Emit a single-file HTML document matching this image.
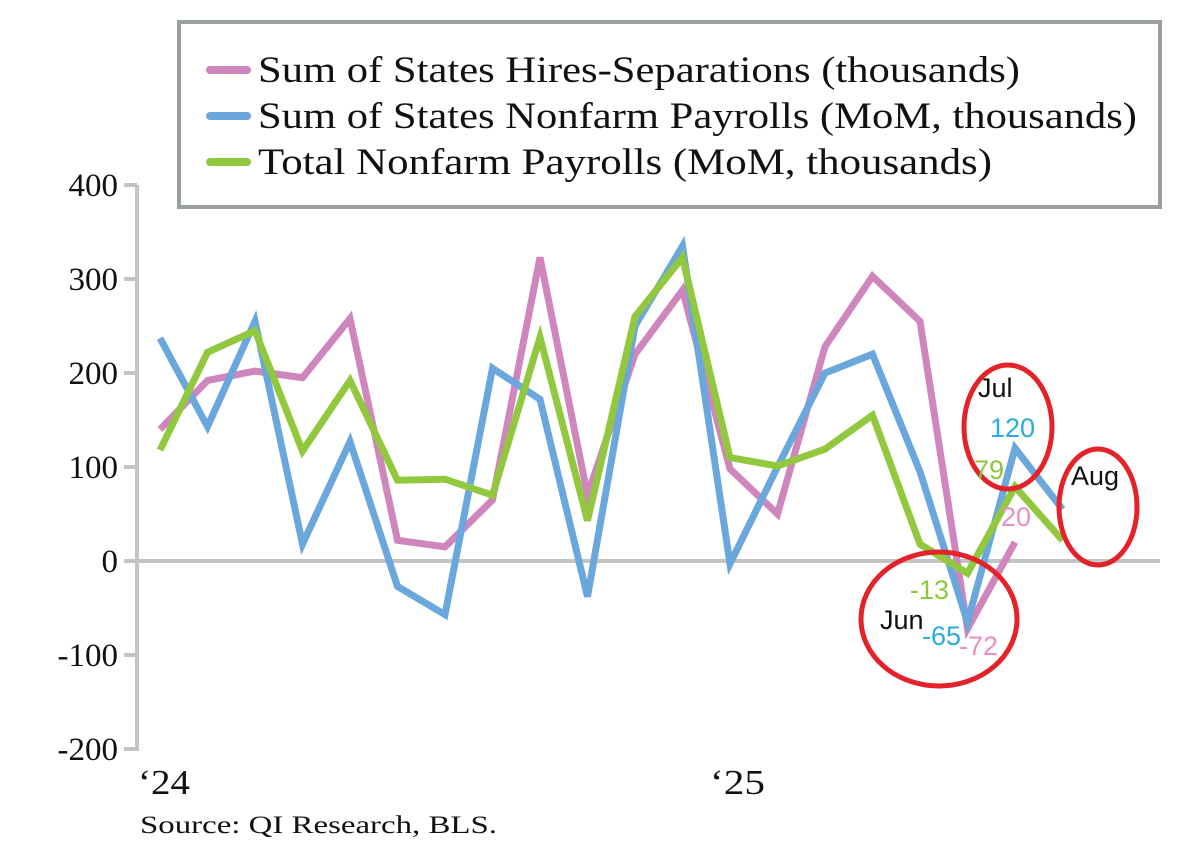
<!DOCTYPE html>
<html><head><meta charset="utf-8"><style>
html,body{margin:0;padding:0;background:#fff;}
svg{display:block;}
</style></head><body>
<svg width="1200" height="852" viewBox="0 0 1200 852" xmlns="http://www.w3.org/2000/svg">
<rect width="1200" height="852" fill="#fff"/>
<rect x="179" y="22" width="981" height="185" fill="#fff" stroke="#9aa09c" stroke-width="4"/>
<g stroke-linecap="round" stroke-width="8">
<line x1="210" y1="70" x2="247" y2="70" stroke="#cf86bd"/>
<line x1="210" y1="116" x2="247" y2="116" stroke="#6aa7dc"/>
<line x1="210" y1="162" x2="247" y2="162" stroke="#92c83e"/>
</g>
<g font-family="Liberation Serif, serif" font-size="37" fill="#111">
<text x="258" y="82" textLength="762" lengthAdjust="spacingAndGlyphs">Sum of States Hires-Separations (thousands)</text>
<text x="258" y="128" textLength="879" lengthAdjust="spacingAndGlyphs">Sum of States Nonfarm Payrolls (MoM, thousands)</text>
<text x="258" y="174" textLength="734" lengthAdjust="spacingAndGlyphs">Total Nonfarm Payrolls (MoM, thousands)</text>
</g>
<g stroke="#c4c4c4" stroke-width="4" fill="none">
<line x1="137" y1="185" x2="137" y2="751"/>
<line x1="124" y1="185" x2="137" y2="185"/>
<line x1="124" y1="279" x2="137" y2="279"/>
<line x1="124" y1="373" x2="137" y2="373"/>
<line x1="124" y1="467" x2="137" y2="467"/>
<line x1="124" y1="655" x2="137" y2="655"/>
<line x1="124" y1="749" x2="137" y2="749"/>
<line x1="124" y1="561" x2="1160" y2="561"/>
</g>
<g font-family="Liberation Serif, serif" font-size="33" fill="#111" text-anchor="end">
<text x="118" y="196">400</text>
<text x="118" y="290">300</text>
<text x="118" y="384">200</text>
<text x="118" y="478">100</text>
<text x="118" y="572">0</text>
<text x="118" y="666">-100</text>
<text x="118" y="760">-200</text>
</g>
<g font-family="Liberation Serif, serif" font-size="35" fill="#111">
<text x="138" y="794" textLength="52" lengthAdjust="spacingAndGlyphs">‘24</text>
<text x="710" y="794" textLength="55" lengthAdjust="spacingAndGlyphs">‘25</text>
<text x="140" y="833" font-size="25" textLength="357" lengthAdjust="spacingAndGlyphs">Source: QI Research, BLS.</text>
</g>
<g fill="none" stroke-width="7" stroke-linejoin="miter" stroke-linecap="butt">
<polyline stroke="#cf86bd" points="160,429.4 207.5,380.5 255,371.1 302.5,377.7 350,318.5 397.5,540.3 445,546.9 492.5,499.9 540,257.4 587.5,495.2 635,354.2 682.5,290.3 730,468.9 777.5,514 825,346.7 872.5,276.2 920,321.3 967.5,628.7 1015,542.2"/>
<polyline stroke="#6aa7dc" points="160,338.2 207.5,426.6 255,321.3 302.5,544.1 350,441.6 397.5,586.4 445,614.6 492.5,368.3 540,399.3 587.5,596.7 635,326 682.5,246.1 730,563.8 777.5,467 825,373 872.5,354.2 920,471.7 967.5,622.1 1015,448.2 1062.5,509.3"/>
<polyline stroke="#92c83e" points="160,450.1 207.5,352.3 255,330.7 302.5,451 350,380.5 397.5,480.2 445,479.2 492.5,495.2 540,337.3 587.5,520.6 635,316.6 682.5,257.4 730,457.6 777.5,466 825,449.1 872.5,415.3 920,544.1 967.5,573.2 1015,486.7 1062.5,540.3"/>
</g>
<g fill="none" stroke="#e3222a" stroke-width="5">
<ellipse cx="1008" cy="427" rx="44" ry="62"/>
<ellipse cx="1098" cy="507" rx="39" ry="58"/>
<ellipse cx="939" cy="619" rx="78" ry="67"/>
</g>
<g font-family="Liberation Sans, sans-serif" font-size="27">
<text x="978" y="397" fill="#111">Jul</text>
<text x="990" y="437" fill="#29abe2">120</text>
<text x="974" y="479" fill="#8dc63f">79</text>
<text x="1001" y="526" fill="#e98fc2">20</text>
<text x="1071" y="485" fill="#111">Aug</text>
<text x="910" y="599" fill="#8dc63f">-13</text>
<text x="880" y="629" fill="#111">Jun</text>
<text x="922" y="645" fill="#29abe2">-65</text>
<text x="959" y="655" fill="#e98fc2">-72</text>
</g>
</svg>
</body></html>
